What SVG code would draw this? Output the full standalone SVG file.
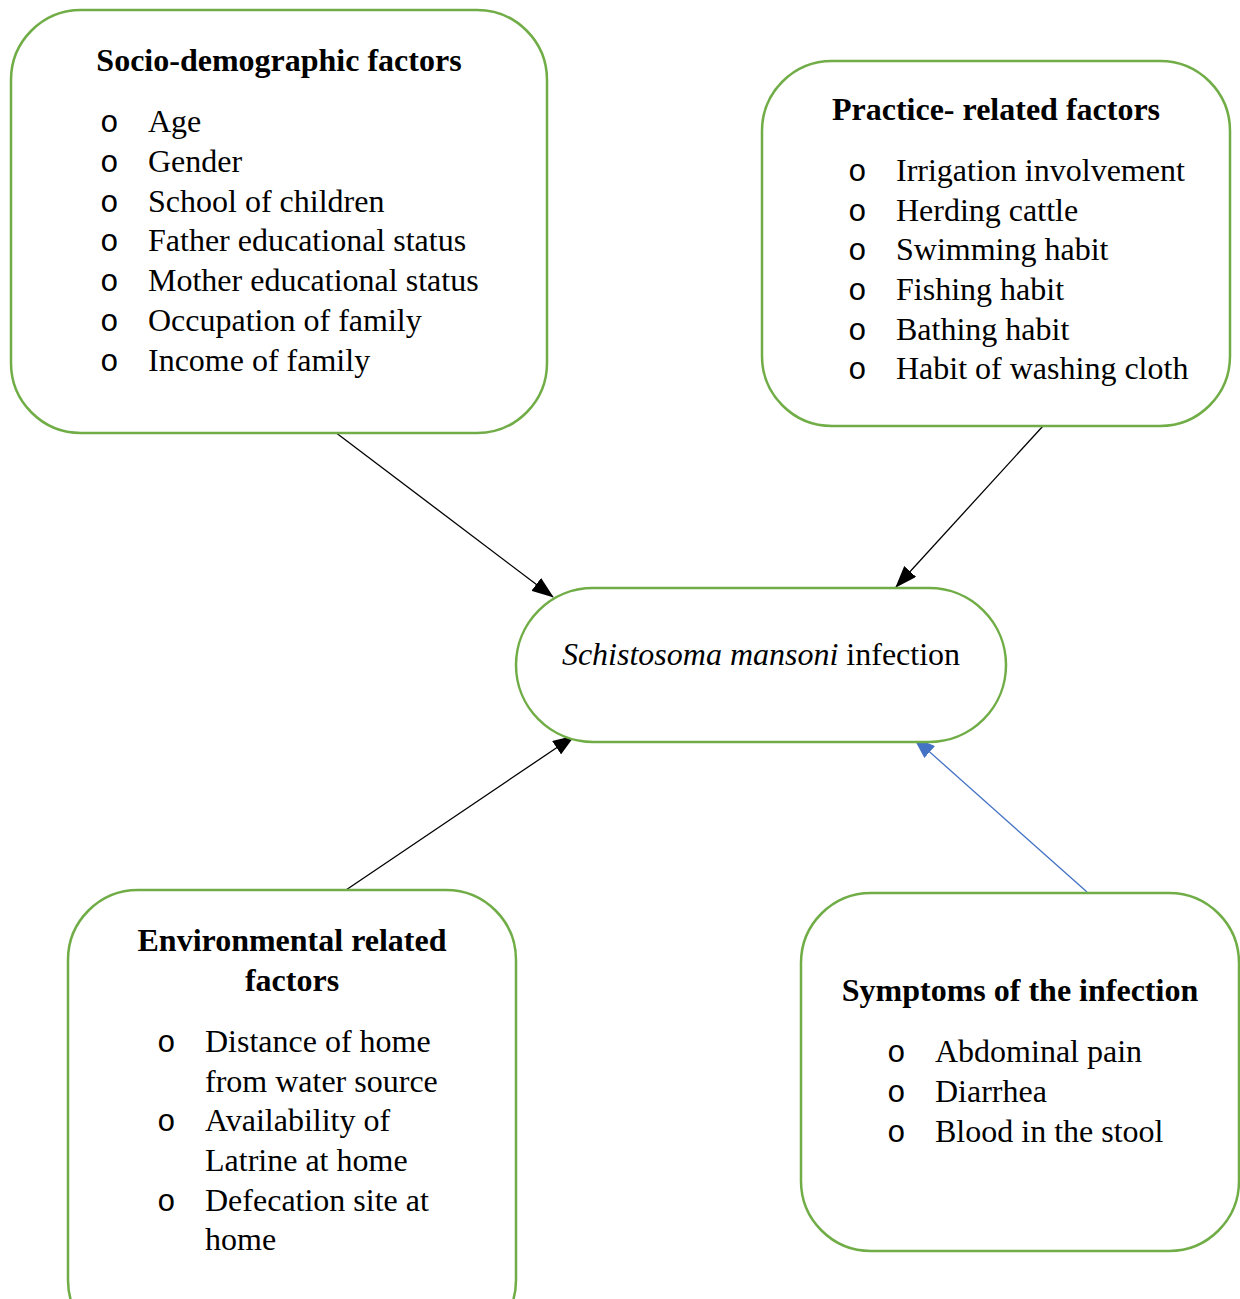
<svg xmlns="http://www.w3.org/2000/svg" width="1240" height="1299" viewBox="0 0 1240 1299">
<style>
.box{fill:#fff;stroke:#70AD47;stroke-width:2.5}
.t{font-family:"Liberation Serif","Times New Roman",serif;font-size:32px;fill:#000}
.h{font-weight:bold;text-anchor:middle}
.b{font-family:"Liberation Mono","Courier New",monospace;font-size:31px;fill:#000}
.c{fill:none;stroke-width:1.3}
</style>
<defs>
<marker id="ab" markerUnits="userSpaceOnUse" markerWidth="22" markerHeight="16" refX="21" refY="8" orient="auto"><path d="M0,0 L22,8 L0,16 z" fill="#000"/></marker>
<marker id="au" markerUnits="userSpaceOnUse" markerWidth="22" markerHeight="16" refX="21" refY="8" orient="auto"><path d="M0,0 L22,8 L0,16 z" fill="#4472C4"/></marker>
</defs>
<rect width="1240" height="1299" fill="#fff"/>
<g id="connectors">
<line class="c" x1="335" y1="432" x2="553" y2="597" stroke="#000" marker-end="url(#ab)"/>
<line class="c" x1="1043" y1="426" x2="896" y2="587" stroke="#000" marker-end="url(#ab)"/>
<line class="c" x1="343" y1="892" x2="574" y2="736" stroke="#000" marker-end="url(#ab)"/>
<line class="c" x1="1087" y1="892" x2="914" y2="738" stroke="#4472C4" marker-end="url(#au)"/>
</g>
<g id="socio">
<rect class="box" x="11" y="10" width="536" height="423" rx="70"/>
<text class="t h" x="279" y="71">Socio-demographic factors</text>
<g class="b"><text x="100" y="132">o</text><text x="100" y="172">o</text><text x="100" y="212">o</text><text x="100" y="251">o</text><text x="100" y="291">o</text><text x="100" y="331">o</text><text x="100" y="371">o</text></g>
<g class="t"><text x="148" y="132">Age</text><text x="148" y="172">Gender</text><text x="148" y="212">School of children</text><text x="148" y="251">Father educational status</text><text x="148" y="291">Mother educational status</text><text x="148" y="331">Occupation of family</text><text x="148" y="371">Income of family</text></g>
</g>
<g id="practice">
<rect class="box" x="762" y="61" width="468" height="365" rx="70"/>
<text class="t h" x="996" y="120">Practice- related factors</text>
<g class="b"><text x="848" y="181">o</text><text x="848" y="221">o</text><text x="848" y="260">o</text><text x="848" y="300">o</text><text x="848" y="340">o</text><text x="848" y="379">o</text></g>
<g class="t"><text x="896" y="181">Irrigation involvement</text><text x="896" y="221">Herding cattle</text><text x="896" y="260">Swimming habit</text><text x="896" y="300">Fishing habit</text><text x="896" y="340">Bathing habit</text><text x="896" y="379">Habit of washing cloth</text></g>
</g>
<g id="infection">
<rect class="box" x="516" y="588" width="490" height="154" rx="77"/>
<text class="t" x="761" y="665" text-anchor="middle"><tspan font-style="italic">Schistosoma mansoni</tspan> infection</text>
</g>
<g id="environmental">
<rect class="box" x="68" y="890" width="448" height="460" rx="70"/>
<text class="t h" x="292" y="951">Environmental related</text>
<text class="t h" x="292" y="991">factors</text>
<g class="b"><text x="157" y="1052">o</text><text x="157" y="1131">o</text><text x="157" y="1211">o</text></g>
<g class="t"><text x="205" y="1052">Distance of home</text><text x="205" y="1092">from water source</text><text x="205" y="1131">Availability of</text><text x="205" y="1171">Latrine at home</text><text x="205" y="1211">Defecation site at</text><text x="205" y="1250">home</text></g>
</g>
<g id="symptoms">
<rect class="box" x="801" y="893" width="438" height="358" rx="70"/>
<text class="t h" x="1020" y="1001">Symptoms of the infection</text>
<g class="b"><text x="887" y="1062">o</text><text x="887" y="1102">o</text><text x="887" y="1142">o</text></g>
<g class="t"><text x="935" y="1062">Abdominal pain</text><text x="935" y="1102">Diarrhea</text><text x="935" y="1142">Blood in the stool</text></g>
</g>
</svg>
